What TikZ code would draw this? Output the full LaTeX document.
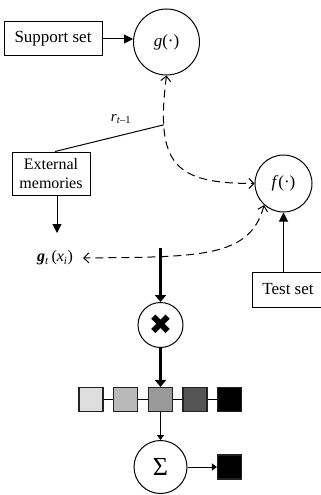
\documentclass[tikz,border=0pt]{standalone}
\usepackage{fontspec}
\setmainfont{Liberation Serif}
\newfontfamily\symfont{DejaVu Sans}
\usetikzlibrary{arrows.meta}
\definecolor{sqA}{HTML}{DEDEDE}
\definecolor{sqB}{HTML}{B9B9B9}
\definecolor{sqC}{HTML}{999999}
\definecolor{sqD}{HTML}{555555}
\definecolor{sqLine}{HTML}{222222}
\begin{document}
\begin{tikzpicture}[x=1pt,y=-1pt,
  box/.style={draw, line width=1pt, inner sep=0pt, font=\fontsize{17}{19}\selectfont},
  circ/.style={draw, circle, line width=1pt, inner sep=0pt},
  sq/.style={draw=sqLine, line width=1.1pt, minimum size=24pt, inner sep=0pt},
  solidarr/.style={-{Triangle[length=9pt,width=9pt]}, line width=1pt},
  smallarr/.style={-{Triangle[length=5pt,width=7pt]}, line width=0.9pt},
  thickarr/.style={-{Triangle[length=7pt,width=11pt]}, line width=2.3pt},
  dasharr/.style={dash pattern=on 8pt off 5pt, line width=1pt,
    {Straight Barb[length=5pt,width=10pt]}-{Straight Barb[length=5pt,width=10pt]}},
  lbl/.style={inner sep=0pt}
]
\useasboundingbox (0,0) rectangle (321,495);

% nodes
\node[box, minimum width=98pt, minimum height=34pt] (sup) at (53,39) {Support set};
\node[circ, minimum size=66pt, font=\fontsize{17}{19}\selectfont] (g) at (166.5,42) {\textit{g}(·)};
\node[box, minimum width=78pt, minimum height=43pt, align=center,
      font=\fontsize{16}{19}\selectfont] (ext) at (51,173.5) {External\\memories};
\node[circ, minimum size=57pt, font=\fontsize{17}{19}\selectfont] (f) at (283.5,183.5) {\textit{f}(·)};
\node[box, minimum width=72pt, minimum height=35pt] (test) at (288,289.5) {Test set};
\node[lbl, font=\fontsize{16}{18}\selectfont] (gt) at (55,258)
  {\textbf{\textit{g}}\textsubscript{\textit{t}}\,(\textit{x}\textsubscript{\textit{i}})};
\node[lbl, font=\fontsize{15}{17}\selectfont] (r) at (121,119)
  {\textit{r}\textsubscript{\textit{t}–1}};
\node[circ, minimum size=45pt, font=\fontsize{28}{30}\selectfont] (mul) at (160.5,325) {\symfont ✖};
\node[sq, fill=sqA] (s1) at (91,399.5) {};
\node[sq, fill=sqB] (s2) at (125.5,399.5) {};
\node[sq, fill=sqC] (s3) at (160.5,399.5) {};
\node[sq, fill=sqD] (s4) at (195,399.5) {};
\node[sq, fill=black] (s5) at (229.5,399.5) {};
\node[circ, minimum size=53pt, font=\fontsize{26}{28}\selectfont] (sum) at (160.5,467) {Σ};
\node[sq, fill=black] (out) at (229.5,467) {};

\coordinate (extdown) at (57,233);
\coordinate (tstart) at (160.5,248);

% connectors
\draw[solidarr] (sup.east) -- (g.west |- sup.east);
\draw[dasharr] (g.south) .. controls (155,165) and (175,183.5) .. (f.west) coordinate[pos=0.22] (J);
\draw[line width=1pt] ([xshift=4pt]ext.north) -- (J);
\draw[solidarr] (ext.south -| extdown) -- (extdown);
\draw[dasharr, shorten >=10pt] (f.228) .. controls (250,258) and (200,257) .. (gt.east);
\draw[solidarr] (test.north -| f.south) -- (f.south);
\draw[thickarr] (tstart) -- (mul.north);
\draw[thickarr] (mul.south) -- (s3.north);
\draw[line width=1pt] (s1) -- (s2) (s2) -- (s3) (s3) -- (s4) (s4) -- (s5);
\draw[smallarr] (s3.south) -- (sum.north);
\draw[smallarr] (sum.east) -- (out.west);
\end{tikzpicture}
\end{document}
